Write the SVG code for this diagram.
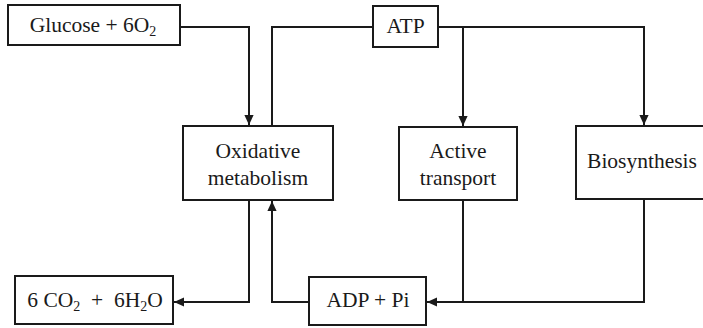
<svg xmlns="http://www.w3.org/2000/svg" width="703" height="328" viewBox="0 0 703 328">
<style>
.box{fill:#fff;stroke:#1a1a1a;stroke-width:2}
.t{font-family:"Liberation Serif","Times New Roman",serif;font-size:21.5px;fill:#1a1a1a;text-anchor:middle}
.sub{font-size:14px}
.c{fill:none;stroke:#1a1a1a;stroke-width:2}
</style>
<defs>
<marker id="ah" viewBox="0 0 10 10" refX="10" refY="5" markerWidth="5" markerHeight="4.6" orient="auto" markerUnits="strokeWidth" preserveAspectRatio="none">
<path d="M0,0 L10,5 L0,10 z" fill="#1a1a1a"/>
</marker>
</defs>
<rect width="703" height="328" fill="#fff"/>
<g id="connectors">
<path class="c" d="M180,27 H249 V125" marker-end="url(#ah)"/>
<path class="c" d="M373,27 H272 V126"/>
<path class="c" d="M438,27 H644 V125" marker-end="url(#ah)"/>
<path class="c" d="M463,27 V126" marker-end="url(#ah)"/>
<path class="c" d="M249,200 V302 H174" marker-end="url(#ah)"/>
<path class="c" d="M309,302 H272 V201" marker-end="url(#ah)"/>
<path class="c" d="M463,200 V302"/>
<path class="c" d="M644,199 V302 H427" marker-end="url(#ah)"/>
</g>
<g id="glucose">
<rect class="box" x="8" y="5" width="172" height="40"/>
<text class="t" x="93" y="32">Glucose + 6O<tspan class="sub" dy="4">2</tspan></text>
</g>
<g id="atp">
<rect class="box" x="373" y="6" width="65" height="41"/>
<text class="t" x="405.5" y="33">ATP</text>
</g>
<g id="oxidative">
<rect class="box" x="183" y="126" width="150" height="74"/>
<text class="t" x="258" y="158">Oxidative</text>
<text class="t" x="258" y="185">metabolism</text>
</g>
<g id="active">
<rect class="box" x="399" y="127" width="118" height="73"/>
<text class="t" x="458" y="158">Active</text>
<text class="t" x="458" y="185">transport</text>
</g>
<g id="biosynthesis">
<rect class="box" x="576" y="126" width="140" height="73"/>
<text class="t" x="642" y="168">Biosynthesis</text>
</g>
<g id="products">
<rect class="box" x="15" y="276" width="158" height="48"/>
<text class="t" x="95" y="307" xml:space="preserve">6 CO<tspan class="sub" dy="4">2</tspan><tspan dy="-4">  +  6H</tspan><tspan class="sub" dy="4">2</tspan><tspan dy="-4">O</tspan></text>
</g>
<g id="adp">
<rect class="box" x="309" y="277" width="117" height="48"/>
<text class="t" x="368" y="307">ADP + Pi</text>
</g>
</svg>
